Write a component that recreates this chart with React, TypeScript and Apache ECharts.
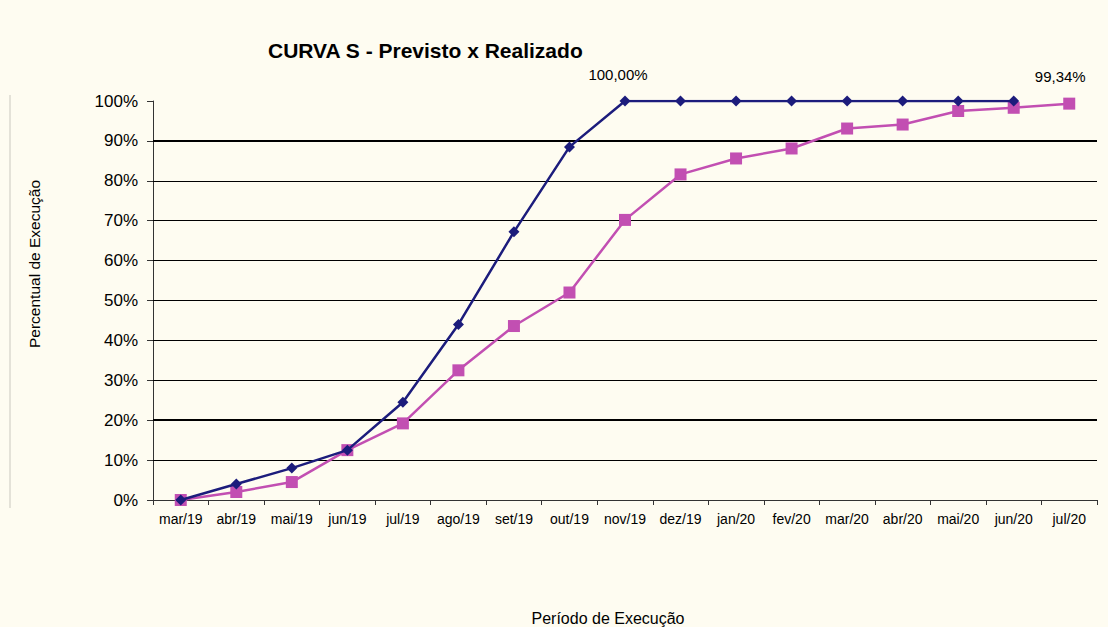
import React, { useEffect, useRef } from "react";
import * as echarts from "echarts";

const categories = ["mar/19","abr/19","mai/19","jun/19","jul/19","ago/19","set/19","out/19","nov/19","dez/19","jan/20","fev/20","mar/20","abr/20","mai/20","jun/20","jul/20"];
const previsto = [0, 4, 8, 12.5, 24.5, 44, 67.2, 88.5, 100, 100, 100, 100, 100, 100, 100, 100];
const realizado = [0, 2, 4.5, 12.5, 19.2, 32.5, 43.6, 52, 70.2, 81.6, 85.6, 88.1, 93.1, 94.1, 97.5, 98.3, 99.34];
const gridValues = [10, 20, 30, 40, 50, 60, 70, 80, 90];
const boldGridValues = [20, 90];
const labelPrevistoIndex = 8;
const labelRealizadoIndex = 16;
const xAxisName = "Período de Execução";
const yAxisName = "Percentual de Execução";

export default function App() {
  const ref = useRef<HTMLDivElement>(null);
  useEffect(() => {
    const chart = echarts.init(ref.current!, undefined, { renderer: "svg" });
    const font = "'Liberation Sans', Arial, sans-serif";
    chart.setOption({
      animation: false,
      backgroundColor: "#fefcf1",
      textStyle: { fontFamily: font },
      title: {
        text: "CURVA S - Previsto x Realizado",
        left: 263,
        top: 35,
        textStyle: { fontFamily: font, fontSize: 21, fontWeight: "bold", color: "#000" },
      },
      graphic: [
        { type: "line", shape: { x1: 10, y1: 95, x2: 10, y2: 508 }, style: { stroke: "#e4e2d8", lineWidth: 2 } },
        {
          type: "text",
          x: 34,
          y: 264,
          rotation: Math.PI / 2,
          style: { text: yAxisName, font: "15.5px 'Liberation Sans', Arial, sans-serif", fill: "#000", textAlign: "center", textVerticalAlign: "middle" },
        },
        {
          type: "text",
          x: 608,
          y: 618,
          style: { text: xAxisName, font: "16px 'Liberation Sans', Arial, sans-serif", fill: "#000", textAlign: "center", textVerticalAlign: "middle" },
        },
      ],
      grid: { left: 153, right: 11, top: 101, bottom: 127, outerBoundsMode: "none", containLabel: false },
      xAxis: {
        type: "category",
        data: categories,
        boundaryGap: true,
        axisLine: { lineStyle: { color: "#333", width: 1 } },
        axisTick: { show: true, alignWithLabel: false, length: 5, lineStyle: { color: "#333" } },
        axisLabel: { color: "#000", fontSize: 14, margin: 12, interval: 0 },
      },
      yAxis: {
        type: "value",
        min: 0,
        max: 100,
        interval: 10,
        axisLine: { show: true, lineStyle: { color: "#333", width: 1 } },
        axisTick: { show: true, length: 6, lineStyle: { color: "#333" } },
        axisLabel: { color: "#000", fontSize: 17, margin: 15, formatter: "{value}%" },
        splitLine: { show: false },
      },
      series: [
        {
          name: "Previsto",
          type: "line",
          data: previsto.map((v, i) =>
            i === labelPrevistoIndex
              ? { value: v, label: { show: true, formatter: "100,00%", position: "top", distance: 14, offset: [-7, 0], color: "#000", fontSize: 15 } }
              : v
          ),
          symbol: "diamond",
          symbolSize: 11,
          lineStyle: { color: "#1c1c7c", width: 2.5 },
          itemStyle: { color: "#1c1c7c" },
          z: 3,
          markLine: {
            silent: true,
            symbol: "none",
            label: { show: false },
            z: 1,
            data: gridValues.map((v) => ({
              yAxis: v,
              lineStyle: { color: "#000", type: "solid", width: boldGridValues.includes(v) ? 2.2 : 1.2 },
            })),
          },
        },
        {
          name: "Realizado",
          type: "line",
          data: realizado.map((v, i) =>
            i === labelRealizadoIndex
              ? { value: v, label: { show: true, formatter: "99,34%", position: "top", distance: 14, offset: [-9, 0], color: "#000", fontSize: 15 } }
              : v
          ),
          symbol: "rect",
          symbolSize: 12,
          lineStyle: { color: "#c24fb2", width: 2.5 },
          itemStyle: { color: "#c24fb2" },
          z: 2,
        },
      ],
    });
    return () => chart.dispose();
  }, []);
  return <div ref={ref} style={{ width: 1108, height: 627, position: "absolute", left: 0, top: 0 }} />;
}
